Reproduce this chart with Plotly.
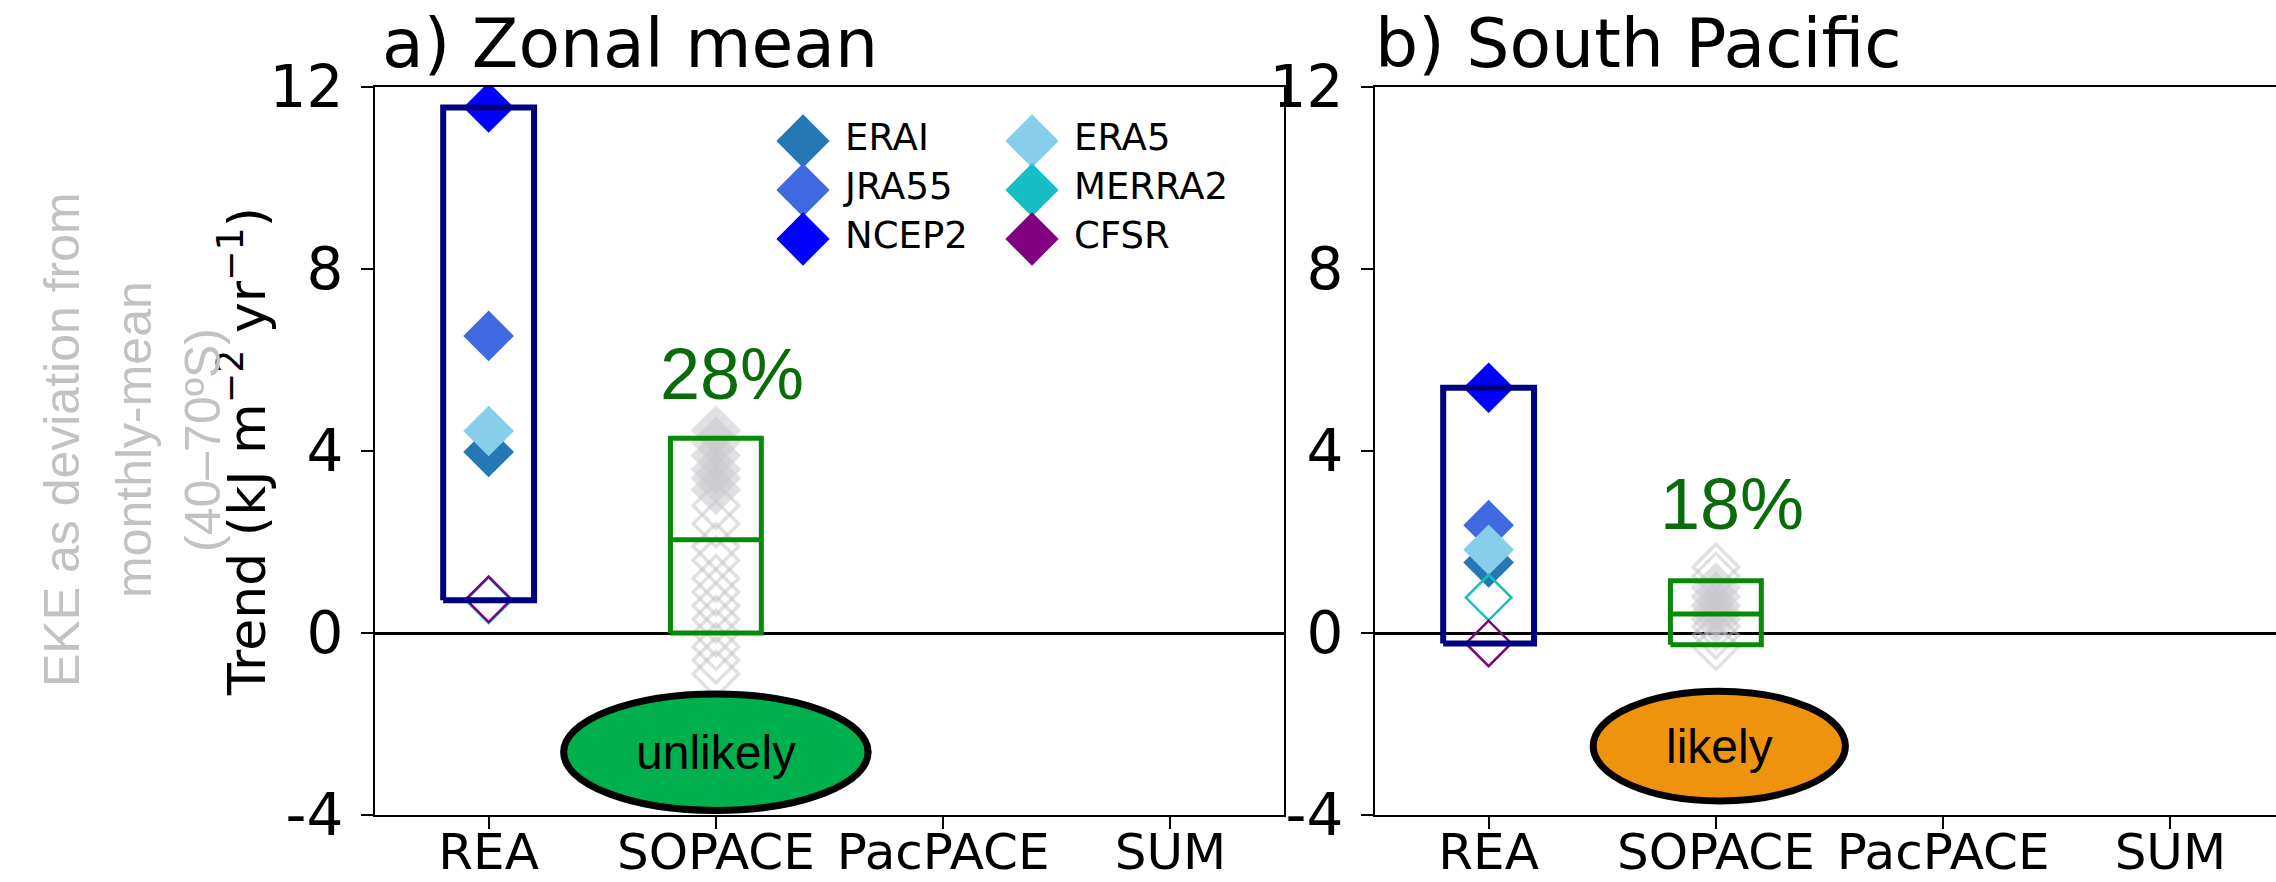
import plotly.graph_objects as go

# ---------------- data ----------------
categories = ["REA", "SOPACE", "PacPACE", "SUM"]
panel_titles = ["a) Zonal mean", "b) South Pacific"]

reanalyses = ["ERAI", "JRA55", "NCEP2", "ERA5", "MERRA2", "CFSR"]
rea_colors = ["#2378b5", "#4169e1", "#0000ff", "#87ceeb", "#17bec4", "#800080"]

rea_zonal = [3.98, 6.53, 11.55, 4.44, 0.72, 0.74]
rea_pacific = [1.55, 2.37, 5.39, 1.83, 0.78, -0.23]
rea_signif_zonal = [True, True, True, True, False, False]
rea_signif_pacific = [True, True, True, True, False, False]

sopace_zonal_filled = [4.45, 4.2, 3.9, 3.6, 3.4, 3.15]
sopace_zonal_open = [2.8, 2.4, 1.9, 1.6, 1.2, 0.9, 0.6, 0.3, 0.0, -0.3, -0.6, -0.9]
sopace_pacific_filled = [1.0, 0.8, 0.6, 0.45, 0.3]
sopace_pacific_open = [1.45, 1.25, 0.15, -0.05, -0.3]

sopace_box_zonal = [0.0, 2.05, 4.28]      # low, middle, high
sopace_box_pacific = [-0.26, 0.42, 1.15]

percent_labels = ["28%", "18%"]
percent_y = [5.7, 2.84]
likelihood = ["unlikely", "likely"]
likelihood_colors = ["#00b04f", "#ef930f"]

y_ticks = [-4, 0, 4, 8, 12]
y_ticklabels = ["-4", "0", "4", "8", "12"]

ekelabel_lines = ["EKE as deviation from", "monthly-mean", "(40–70ºS)"]

# ---------------- figure ----------------
W, H = 2276, 882
fig = go.Figure()

panels = [
    dict(xa="x", ya="y", rea=rea_zonal, sig=rea_signif_zonal,
         filled=sopace_zonal_filled, open_=sopace_zonal_open, box=sopace_box_zonal),
    dict(xa="x2", ya="y2", rea=rea_pacific, sig=rea_signif_pacific,
         filled=sopace_pacific_filled, open_=sopace_pacific_open, box=sopace_box_pacific),
]

DIAM = 39
HALF = 0.2
REA_X = categories.index("REA")
SOP_X = categories.index("SOPACE")

for p in panels:
    # SOPACE ensemble members
    fig.add_trace(go.Scatter(
        x=[SOP_X] * len(p["open_"]), y=p["open_"], mode="markers", xaxis=p["xa"], yaxis=p["ya"],
        marker=dict(symbol="diamond-open", size=DIAM - 4, color="rgba(195,195,200,0.5)",
                    line=dict(width=3.5, color="rgba(195,195,200,0.5)")),
        showlegend=False, hoverinfo="skip"))
    fig.add_trace(go.Scatter(
        x=[SOP_X] * len(p["filled"]), y=p["filled"], mode="markers", xaxis=p["xa"], yaxis=p["ya"],
        marker=dict(symbol="diamond", size=DIAM, color="rgba(200,200,205,0.55)", line=dict(width=0)),
        showlegend=False, hoverinfo="skip"))
    # reanalyses
    for name, col, v, s in zip(reanalyses, rea_colors, p["rea"], p["sig"]):
        if s:
            mk = dict(symbol="diamond", size=DIAM, color=col, line=dict(width=0))
        else:
            mk = dict(symbol="diamond-open", size=DIAM - 4, color=col, line=dict(width=2.5, color=col))
        fig.add_trace(go.Scatter(x=[REA_X], y=[v], mode="markers", xaxis=p["xa"], yaxis=p["ya"],
                                 marker=mk, name=name, showlegend=False))
    # REA range box
    lo, hi = min(p["rea"]), max(p["rea"])
    fig.add_trace(go.Scatter(
        x=[REA_X - HALF, REA_X + HALF, REA_X + HALF, REA_X - HALF, REA_X - HALF],
        y=[lo, lo, hi, hi, lo], mode="lines", xaxis=p["xa"], yaxis=p["ya"],
        line=dict(color="#000080", width=6), showlegend=False, hoverinfo="skip"))
    # SOPACE box
    blo, bmid, bhi = p["box"]
    fig.add_trace(go.Scatter(
        x=[SOP_X - HALF, SOP_X + HALF, SOP_X + HALF, SOP_X - HALF, SOP_X - HALF, None, SOP_X - HALF, SOP_X + HALF],
        y=[blo, blo, bhi, bhi, blo, None, bmid, bmid], mode="lines", xaxis=p["xa"], yaxis=p["ya"],
        line=dict(color="#078a07", width=5), showlegend=False, hoverinfo="skip"))

# ---------------- legend (drawn on a pixel-unit overlay axis) ----------------
leg_x0, leg_x1, leg_y0, leg_y1 = 740, 1280, 100, 280
col_x = [803, 1032]
row_y = [141, 190, 239]
lx, ly, lt, lc = [], [], [], []
for i, (name, col) in enumerate(zip(reanalyses, rea_colors)):
    c, r = divmod(i, 3)
    lx.append(col_x[c]); ly.append(row_y[r]); lt.append(name); lc.append(col)
fig.add_trace(go.Scatter(x=lx, y=ly, mode="markers", xaxis="x3", yaxis="y3",
                         marker=dict(symbol="diamond", size=41, color=lc, line=dict(width=0)),
                         showlegend=False, hoverinfo="skip"))
fig.add_trace(go.Scatter(x=[v + 42 for v in lx], y=ly, mode="text", text=lt, textposition="middle right",
                         textfont=dict(family="DejaVu Sans", size=37, color="black"),
                         xaxis="x3", yaxis="y3", showlegend=False, hoverinfo="skip"))

# ---------------- axes ----------------
ydom = [1 - 815 / H, 1 - 87 / H]
ax_common = dict(showline=True, linecolor="black", linewidth=2, ticks="outside", ticklen=12,
                 tickwidth=2, tickcolor="black", showgrid=False, zeroline=False, automargin=False,
                 tickfont=dict(family="DejaVu Sans", size=48, color="black"))
y_common = dict(ax_common, range=[-4, 12], tickvals=y_ticks, ticktext=y_ticklabels,
                zeroline=True, zerolinecolor="black", zerolinewidth=2.5,
                tickfont=dict(family="DejaVu Sans", size=58, color="black"), ticklabelstandoff=6)
x_common = dict(ax_common, tickvals=[0, 1, 2, 3], ticktext=categories, ticklabelstandoff=-20,
                tickfont=dict(family="DejaVu Sans", size=50, color="black"))

left_px = (375, 1284)
right_px = (1375, W)
unit = (left_px[1] - left_px[0]) / 4.0
fig.update_layout(
    xaxis=dict(x_common, domain=[left_px[0] / W, left_px[1] / W], range=[-0.5, 3.5], mirror=True, anchor="y"),
    yaxis=dict(y_common, domain=ydom, mirror=True, anchor="x"),
    xaxis2=dict(x_common, domain=[right_px[0] / W, 1.0],
                range=[-0.5, -0.5 + (right_px[1] - right_px[0]) / unit], mirror=True, anchor="y2"),
    yaxis2=dict(y_common, domain=ydom, mirror=False, anchor="x2"),
    xaxis3=dict(domain=[leg_x0 / W, leg_x1 / W], range=[leg_x0, leg_x1], visible=False, anchor="y3",
                automargin=False),
    yaxis3=dict(domain=[1 - leg_y1 / H, 1 - leg_y0 / H], range=[leg_y1, leg_y0], visible=False, anchor="x3",
                automargin=False),
)

# ---------------- ellipses, labels ----------------
ell = [dict(xr="x", yr="y", x0=SOP_X - 0.67, x1=SOP_X + 0.67, y0=-3.9, y1=-1.34),
       dict(xr="x2", yr="y2", x0=SOP_X - 0.54, x1=SOP_X + 0.57, y0=-3.69, y1=-1.28)]
shapes = []
annotations = []
for i, e in enumerate(ell):
    shapes.append(dict(type="circle", xref=e["xr"], yref=e["yr"], x0=e["x0"], x1=e["x1"],
                       y0=e["y0"], y1=e["y1"], fillcolor=likelihood_colors[i],
                       line=dict(color="black", width=7), layer="above"))
    annotations.append(dict(xref=e["xr"], yref=e["yr"], x=(e["x0"] + e["x1"]) / 2, y=(e["y0"] + e["y1"]) / 2,
                            text=likelihood[i], showarrow=False,
                            font=dict(family="Liberation Sans Narrow, Arial Narrow, Liberation Sans", size=48,
                                      color="black")))
    annotations.append(dict(xref=e["xr"], yref=e["yr"], x=SOP_X + 0.07, y=percent_y[i],
                            text=percent_labels[i], showarrow=False,
                            font=dict(family="Liberation Sans, Arial", size=72, color="#0a6b0a")))

annotations.append(dict(xref="paper", yref="paper", x=380 / W, y=1 - 43 / H, xanchor="left", yanchor="middle",
                        text=panel_titles[0], showarrow=False,
                        font=dict(family="DejaVu Sans", size=68, color="black")))
annotations.append(dict(xref="paper", yref="paper", x=1373 / W, y=1 - 43 / H, xanchor="left", yanchor="middle",
                        text=panel_titles[1], showarrow=False,
                        font=dict(family="DejaVu Sans", size=68, color="black")))
annotations.append(dict(xref="paper", yref="paper", x=243 / W, y=1 - 452 / H, xanchor="center", yanchor="middle",
                        text="Trend (kJ m<sup>−2</sup> yr<sup>−1</sup>)", textangle=-90, showarrow=False,
                        font=dict(family="DejaVu Sans", size=52, color="black")))
for xpx, line in zip([62, 134, 203], ekelabel_lines):
    annotations.append(dict(xref="paper", yref="paper", x=xpx / W, y=1 - 440 / H, xanchor="center",
                            yanchor="middle", text=line, textangle=-90, showarrow=False,
                            font=dict(family="Liberation Sans Narrow, Arial Narrow, Liberation Sans", size=50,
                                      color="#c2c2c2")))

fig.update_layout(width=W, height=H, margin=dict(l=0, r=0, t=0, b=0, autoexpand=False),
                  paper_bgcolor="white", plot_bgcolor="white",
                  shapes=shapes, annotations=annotations, showlegend=False)

fig.write_html("out.html")
